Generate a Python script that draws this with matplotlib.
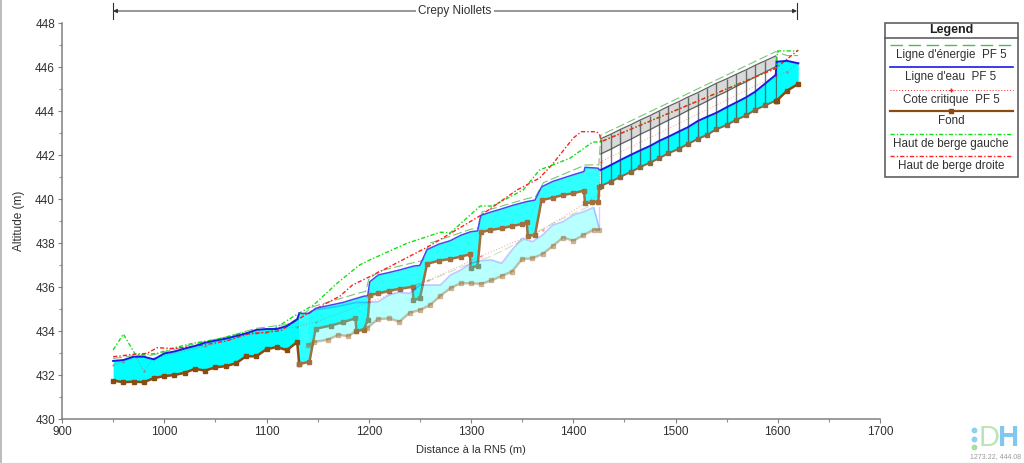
import matplotlib
matplotlib.use("Agg")
import matplotlib.pyplot as plt

plt.rcParams["font.family"] = ["Liberation Sans", "DejaVu Sans"]

# Main reach, upstream of the culvert
bed_x = [950, 960, 970, 980, 990, 1000, 1010, 1020, 1030, 1040, 1050, 1060, 1070, 1080, 1090, 1100, 1110, 1120, 1130,
         1132, 1142, 1148, 1163, 1175, 1187, 1188, 1195, 1199, 1201, 1209.5, 1220, 1230.6, 1243, 1243.6, 1250, 1257,
         1268.7, 1279.5, 1290, 1299, 1299.7, 1306.5, 1309.5, 1319, 1330, 1340, 1349.5, 1354.5, 1355.5, 1362.6, 1369,
         1380, 1390, 1400, 1410.5, 1411.5, 1418, 1424.5, 1425.5]
bed_y = [431.75, 431.67, 431.7, 431.67, 431.86, 431.95, 432.0, 432.1, 432.28, 432.2, 432.35, 432.4, 432.53, 432.85,
         432.85, 433.17, 433.27, 433.13, 433.5, 432.5, 432.6, 434.1, 434.25, 434.4, 434.58, 434.01, 434.05, 434.5,
         435.64, 435.71, 435.83, 435.92, 436.01, 435.41, 435.48, 437.05, 437.2, 437.27, 437.38, 437.49, 436.88, 436.96,
         438.49, 438.59, 438.67, 438.77, 438.86, 438.94, 438.33, 438.36, 439.95, 440.06, 440.18, 440.26, 440.38, 439.8,
         439.85, 439.88, 440.56]
water_y = [432.64, 432.68, 432.83, 432.83, 432.71, 432.98, 433.07, 433.2, 433.32, 433.47, 433.56, 433.65, 433.77, 433.89,
           434.05, 434.09, 434.09, 434.23, 434.53, 434.8, 434.8, 435.03, 435.18, 435.3, 435.47, 435.48, 435.58, 435.6,
           436.24, 436.55, 436.66, 436.78, 436.94, 436.95, 436.98, 437.7, 437.95, 438.1, 438.35, 438.5, 438.51, 438.55,
           439.25, 439.4, 439.55, 439.7, 439.82, 439.88, 439.89, 439.95, 440.55, 440.8, 440.95, 441.1, 441.25, 441.44,
           441.42, 441.4, 441.32]

# Culvert and end of the reach
culv_x = [1427, 1437, 1446, 1456, 1465, 1475, 1484, 1493, 1503, 1512, 1522, 1531, 1540, 1550, 1559, 1569, 1578, 1588, 1598]
culv_bed = [440.6, 440.79, 441.01, 441.22, 441.44, 441.65, 441.85, 442.08, 442.27, 442.5, 442.73, 442.92, 443.17, 443.36,
            443.59, 443.8, 444.05, 444.26, 444.47]
culv_water = [441.32, 441.55, 441.77, 442.0, 442.2, 442.41, 442.64, 442.83, 443.06, 443.26, 443.55, 443.74, 443.92, 444.17,
              444.38, 444.62, 444.88, 445.26, 445.64]
culv_low = [442.05, 442.27, 442.49, 442.71, 442.93, 443.15, 443.37, 443.58, 443.8, 444.02, 444.24, 444.45, 444.67, 444.89,
            445.11, 445.33, 445.55, 445.78, 446.01]
culv_high = [442.74, 442.95, 443.16, 443.37, 443.58, 443.79, 444.0, 444.21, 444.42, 444.63, 444.84, 445.05, 445.26, 445.46,
             445.66, 445.87, 446.08, 446.29, 446.5]
end_x = [1599, 1609, 1620]
end_bed = [444.47, 444.92, 445.23]
end_water = [446.24, 446.28, 446.17]

# Faded lower reach
low_x = [1141, 1146, 1160, 1170, 1180, 1188, 1198, 1209, 1220, 1230, 1240, 1250, 1260, 1270, 1280, 1290, 1300, 1310, 1320,
         1330, 1340, 1350, 1360, 1370, 1380, 1390, 1400, 1410, 1420, 1425]
low_bed = [433.36, 433.5, 433.6, 433.82, 433.77, 434.0, 434.12, 434.54, 434.57, 434.42, 434.83, 434.95, 435.18, 435.6,
           435.95, 436.17, 436.17, 436.14, 436.3, 436.5, 436.7, 437.27, 437.3, 437.5, 437.86, 438.25, 438.1, 438.36, 438.6, 438.6]
low_water = [434.8, 434.95, 435.05, 435.12, 435.22, 435.3, 435.3, 435.33, 435.64, 435.76, 435.71, 436.09, 436.09, 436.09,
             436.55, 436.77, 437.08, 437.2, 437.23, 437.08, 437.68, 438.21, 438.06, 438.36, 438.82, 438.97, 439.27, 439.42,
             439.62, 438.74]
low_energy_x = [1198, 1230, 1260, 1290, 1320, 1350, 1380, 1410, 1420]
low_energy = [435.5, 435.9, 436.3, 436.9, 437.4, 438.1, 438.9, 439.55, 439.75]

# Other lines
energy_x = [950, 970, 985, 1000, 1030, 1060, 1090, 1120, 1132, 1145, 1165, 1190, 1197, 1200, 1210, 1243, 1253, 1259, 1300,
            1307, 1311, 1355, 1363, 1371, 1412, 1425, 1427, 1598, 1609, 1620]
energy_y = [432.75, 432.88, 432.87, 433.05, 433.42, 433.72, 434.12, 434.3, 434.6, 435.1, 435.38, 435.72, 435.8, 436.35,
            436.72, 437.1, 437.2, 437.98, 438.63, 438.68, 439.42, 440.02, 440.1, 440.75, 441.55, 441.55, 442.9, 446.7, 446.52, 446.52]
bank_left_x = [950, 960, 972, 993, 1010, 1028, 1051, 1077, 1100, 1111, 1126, 1146, 1169, 1191, 1201, 1237, 1270, 1280, 1309,
               1321, 1351, 1367, 1384, 1397, 1419, 1426, 1427, 1598, 1600, 1620]
bank_left_y = [433.14, 433.86, 432.91, 432.98, 433.24, 433.44, 433.62, 433.92, 433.89, 434.2, 434.65, 435.18, 436.17, 437.0,
               437.23, 437.98, 438.49, 438.47, 439.68, 439.68, 440.41, 441.32, 441.62, 441.86, 442.59, 442.59, 442.6, 445.94, 446.73, 446.73]
bank_right_x = [950, 972, 983, 993, 1010, 1038, 1061, 1081, 1114, 1127, 1146, 1172, 1184, 1201, 1211, 1258, 1310, 1345, 1367,
                1380, 1400, 1408, 1423, 1426, 1427, 1598, 1620]
bank_right_y = [432.83, 432.95, 432.98, 433.24, 433.2, 433.36, 433.55, 433.86, 434.01, 434.42, 434.95, 435.59, 436.09, 436.47,
                436.7, 437.83, 439.27, 440.41, 440.95, 441.6, 442.77, 443.06, 443.06, 442.9, 442.6, 445.94, 446.77]
critical_x = [950, 960, 972, 980, 990, 1040, 1090, 1130, 1148, 1200, 1258, 1310, 1370, 1425, 1427, 1598, 1609, 1620]
critical_y = [432.45, 432.6, 432.85, 432.2, 432.77, 433.3, 433.9, 434.2, 434.4, 435.3, 436.3, 437.4, 438.6, 440.2, 441.7, 445.59, 445.79, 446.17]

legend_labels = ["Ligne d'énergie  PF 5", "Ligne d'eau  PF 5", "Cote critique  PF 5", "Fond",
                 "Haut de berge gauche", "Haut de berge droite"]

GREEN_E = "#58b858"
BLUE = "#1a1ae6"
RED = "#ff2020"
BROWN = "#8b4a10"
LIME = "#10e010"
TEXT = "#303030"

fig = plt.figure(figsize=(10.24, 4.63), dpi=100)
ax = fig.add_axes([62 / 1024, 1 - 419 / 463, 818 / 1024, 396 / 463])

# main reach water
first = 19
ax.fill_between(bed_x[:first + 1], bed_y[:first + 1], water_y[:first + 1], color="#00ffff", lw=0, zorder=2)
ax.fill_between(bed_x[first:], bed_y[first:], water_y[first:], color="#30ffff", lw=0, zorder=2)
ax.fill_between(culv_x, culv_bed, culv_water, color="#00ffff", lw=0, zorder=2)
ax.fill_between(end_x, end_bed, end_water, color="#00ffff", lw=0, zorder=2)
ax.plot([1598, 1599], [445.64, 446.24], color=BLUE, lw=1.4, zorder=4)
ax.fill_between([1598, 1599], [444.47, 444.47], [445.64, 446.24], color="#00ffff", lw=0, zorder=2)

# culvert deck
ax.fill_between(culv_x, culv_low, culv_high, color="#d9d9d9", lw=0, zorder=2)
ax.plot(culv_x, culv_low, color="#606060", lw=0.9, zorder=3)
ax.plot(culv_x, culv_high, color="#606060", lw=0.9, zorder=3)
ax.vlines(culv_x, culv_bed, culv_high, color="#404848", lw=1.0, alpha=0.75, zorder=3)

# lines
ax.plot(energy_x, energy_y, color=GREEN_E, lw=0.8, ls=(0, (8, 3)), alpha=0.8, zorder=4)
ax.plot(bank_left_x, bank_left_y, color=LIME, lw=1.0, ls=(0, (3, 1.5, 1, 1.5)), zorder=4)
ax.plot(bank_right_x, bank_right_y, color=RED, lw=1.0, ls=(0, (3, 1.5, 1, 1.5)), zorder=4)
ax.plot(critical_x, critical_y, color=RED, lw=0.7, ls=(0, (1, 2)), marker="+", ms=2, alpha=0.45, zorder=4)
ax.plot(bed_x[:first + 1], water_y[:first + 1], color=BLUE, lw=1.4, zorder=5)
ax.plot(bed_x[first:], water_y[first:], color="#4848f0", lw=1.1, zorder=5)
ax.plot(culv_x, culv_water, color=BLUE, lw=1.4, zorder=5)
ax.plot(end_x, end_water, color=BLUE, lw=1.4, zorder=5)
ax.plot(bed_x[:first + 1], bed_y[:first + 1], color=BROWN, lw=1.8, marker="s", ms=3, zorder=6)
ax.plot(bed_x[first:], bed_y[first:], color="#a07040", lw=1.8, marker="s", ms=3, zorder=6)
ax.plot(culv_x, culv_bed, color="#8a6a40", lw=1.4, marker="s", ms=2.2, zorder=6)
ax.plot([1598, 1599] + end_x[1:], [444.47, 444.47] + end_bed[1:], color=BROWN, lw=1.8, marker="s", ms=3, zorder=6)

# faded lower reach
ax.fill_between(low_x, low_bed, low_water, color="#00ffff", alpha=0.28, lw=0, zorder=7)
ax.plot(low_x, low_water, color="#2020ff", lw=1.2, alpha=0.25, zorder=7)
ax.plot(low_x, low_bed, color="#a06a30", lw=1.8, marker="s", ms=3, alpha=0.4, zorder=7)
ax.plot(low_energy_x, low_energy, color=GREEN_E, lw=0.8, ls=(0, (8, 3)), alpha=0.35, zorder=7)
ax.plot([1425, 1425], [438.6, 439.62], color="#2020ff", lw=1, alpha=0.2, zorder=7)

ax.set_xlim(900, 1700)
ax.set_ylim(430, 448)
ax.set_xticks(range(900, 1701, 100))
ax.set_xticks(range(900, 1701, 50), minor=True)
ax.set_yticks(range(430, 449, 2))
ax.set_yticks(range(430, 449, 1), minor=True)
ax.tick_params(which="major", length=3, width=0.8, color="#808080", labelsize=8.5, pad=2, labelcolor=TEXT)
ax.tick_params(which="minor", length=2, width=0.8, color="#909090")
ax.spines["top"].set_visible(False)
ax.spines["right"].set_visible(False)
ax.spines["left"].set_color("#808080")
ax.spines["bottom"].set_color("#808080")
ax.spines["left"].set_linewidth(1.1)
ax.spines["bottom"].set_linewidth(1.1)
ax.set_xlabel("Distance à la RN5 (m)", fontsize=8, color=TEXT, labelpad=5)
ax.set_ylabel("Altitude (m)", fontsize=8.5, color=TEXT, labelpad=7)

# overlay in pixels for reach label, legend and logo
ov = fig.add_axes([0, 0, 1, 1])
ov.set_xlim(0, 1024)
ov.set_ylim(463, 0)
ov.axis("off")
ov.patch.set_alpha(0)

# window edge
ov.plot([0.5, 0.5], [0, 463], color="#b0b0b0", lw=1.2)
ov.plot([0, 1024], [462.5, 462.5], color="#e8e8e8", lw=1)

ov.annotate("", xy=(113, 11), xytext=(797, 11), arrowprops=dict(arrowstyle="<|-|>", color="#303030", lw=0.7, shrinkA=0, shrinkB=0, mutation_scale=6))
ov.plot([113, 113], [3, 19], color="#303030", lw=0.8)
ov.plot([797, 797], [3, 19], color="#303030", lw=0.8)
ov.text(455, 11, "Crepy Niollets", fontsize=8.5, color=TEXT, ha="center", va="center", bbox=dict(fc="white", ec="none", pad=2))

ov.add_patch(plt.Rectangle((884.5, 23), 133, 154, fc="white", ec="#606060", lw=1.2))
ov.plot([884.5, 1017.5], [38.3, 38.3], color="#606060", lw=1.2)
ov.text(951, 30.5, "Legend", fontsize=9, fontweight="bold", ha="center", va="center", color="#202020")
legend_y = [44.5, 67, 89.5, 111, 133.6, 155.6]
styles = [dict(color=GREEN_E, lw=1, ls=(0, (9, 4))), dict(color=BLUE, lw=1.2), dict(color=RED, lw=0.7, ls=(0, (1, 2))),
          dict(color=BROWN, lw=1.6), dict(color=LIME, lw=1, ls=(0, (3, 1.5, 1, 1.5))), dict(color=RED, lw=1, ls=(0, (3, 1.5, 1, 1.5)))]
for ly, lab, st in zip(legend_y, legend_labels, styles):
    ov.plot([890, 1013], [ly, ly], **st)
    ov.text(951, ly + 10.3, lab, fontsize=8.4, ha="center", va="center", color=TEXT)
ov.plot([951], [111], marker="s", ms=3.5, color=BROWN)
ov.plot([951], [89.5], marker="+", ms=2.5, color=RED)

# logo
ov.scatter([973.5, 973.5], [430, 438.5], s=18, color="#8fd0f0", lw=0)
ov.scatter([973.5], [447], s=18, color="#a8dca0", lw=0)
ov.text(978.5, 438, "D", fontsize=21, color="#bfe3b8", ha="left", va="center")
ov.text(998.5, 438, "H", fontsize=21, fontweight="bold", color="#80c8ee", ha="left", va="center")
ov.text(1021, 457, "1273.22, 444.08", fontsize=5, color="#9a9a9a", ha="right", va="center")

fig.savefig("out.png", dpi=100)
